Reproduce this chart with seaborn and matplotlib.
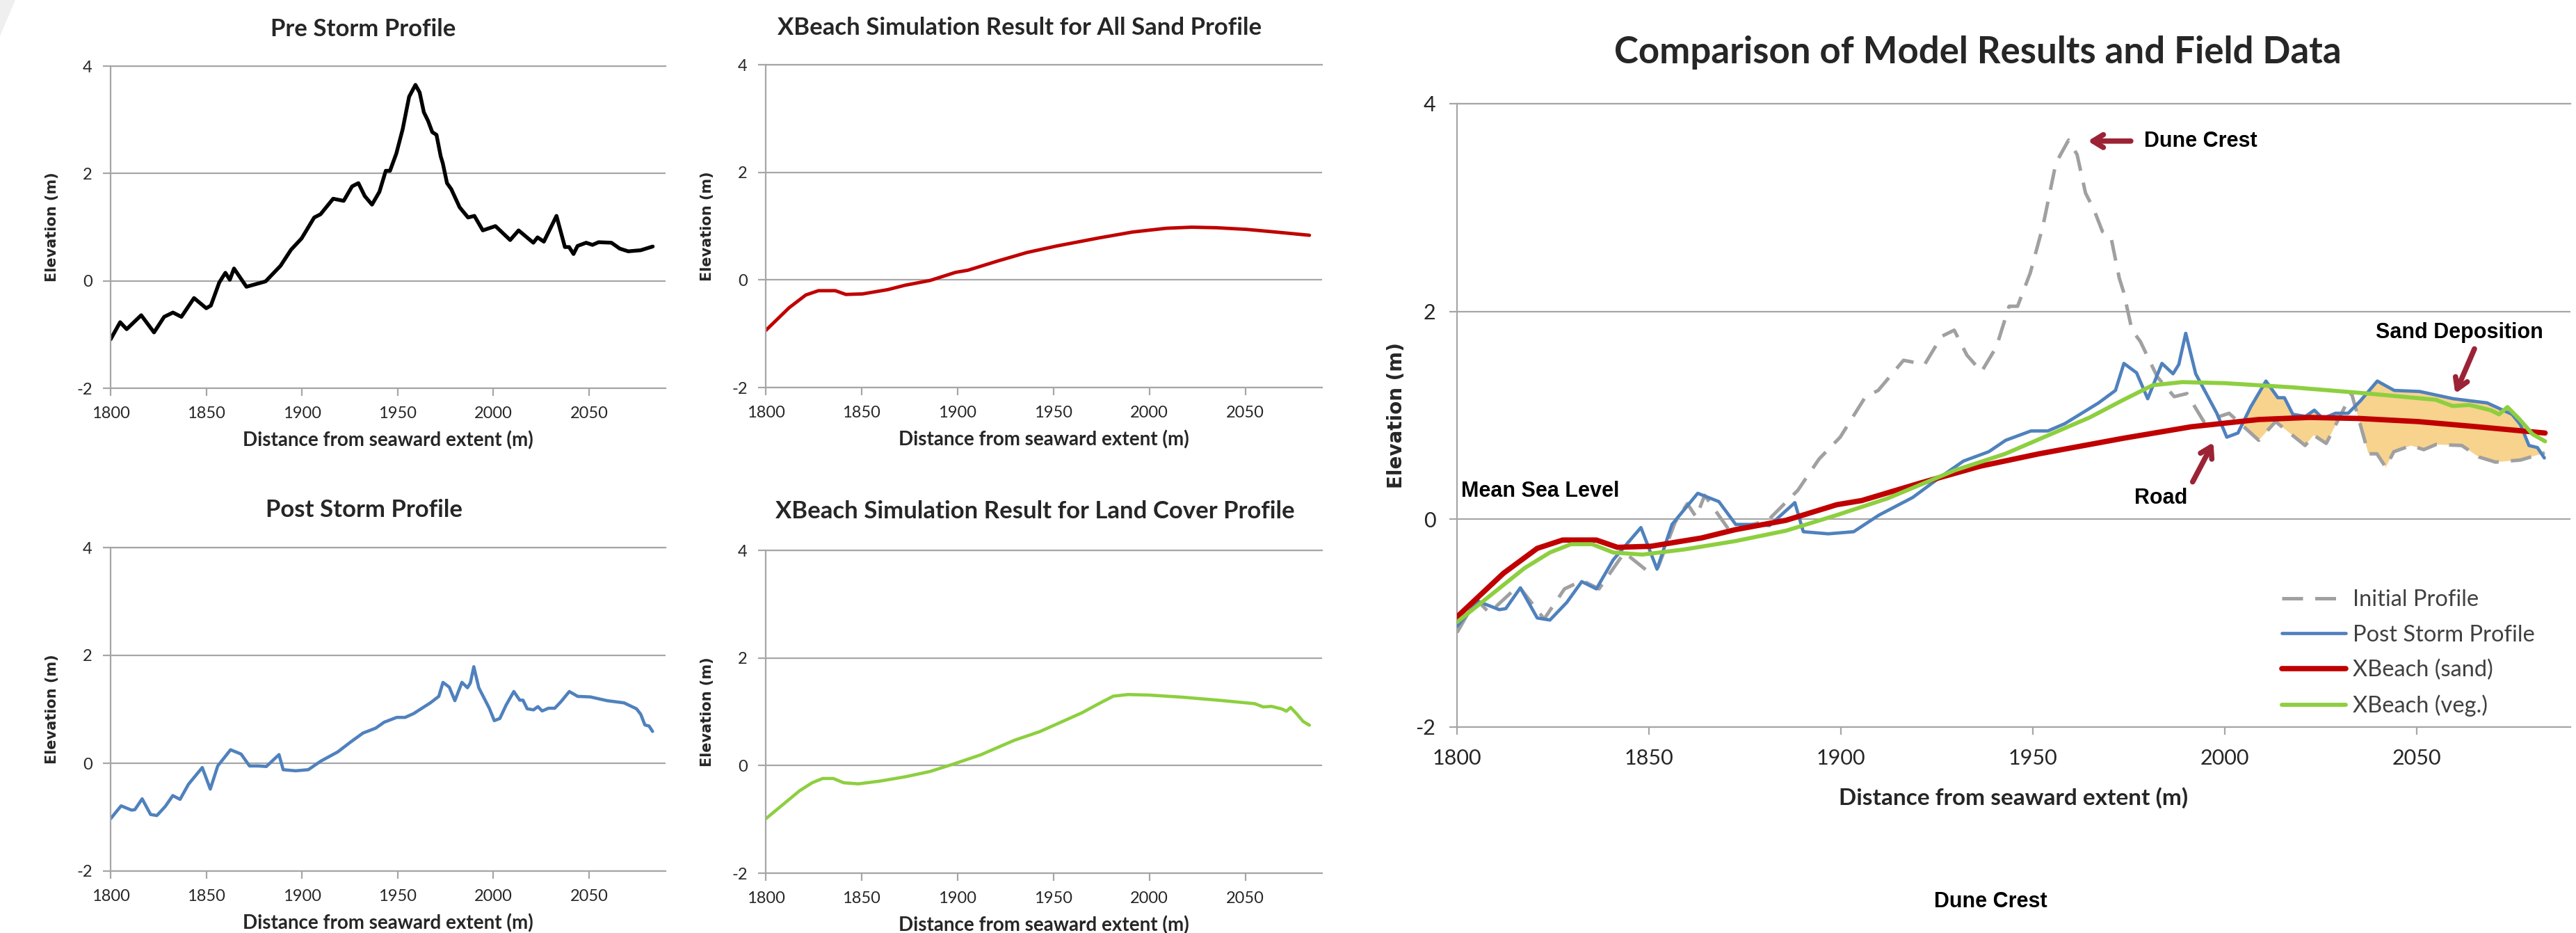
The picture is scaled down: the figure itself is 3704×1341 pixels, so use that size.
import matplotlib
matplotlib.use("Agg")
import matplotlib.pyplot as plt
import numpy as np
import seaborn as sns
from matplotlib.patches import Polygon

# ---- data (distance m, elevation m) ----
pre_x = [1800, 1805, 1808.4, 1816, 1822.7, 1828, 1832.6, 1837, 1843.6, 1850, 1852.4,
         1856.8, 1860, 1862.3, 1864.5, 1871, 1881, 1888.8, 1894.3, 1899.8, 1906.4,
         1909.7, 1916.3, 1921.8, 1926.2, 1929.5, 1932.8, 1936.6, 1940.5, 1943.8, 1946,
         1949.3, 1952.6, 1956, 1959.3, 1961.5, 1963.7, 1965.9, 1968.1, 1970.3, 1972.5,
         1973.6, 1975.8, 1978, 1982.4, 1986.8, 1990.1, 1994.5, 2001.1, 2008.8, 2013.2,
         2020.9, 2023.1, 2026.4, 2033, 2037.4, 2039.6, 2041.9, 2044, 2048.5, 2051.8,
         2055, 2061.7, 2066.1, 2070.5, 2077, 2083.3]
pre_y = [-1.09, -0.77, -0.90, -0.64, -0.96, -0.67, -0.59, -0.67, -0.32, -0.51, -0.46,
         -0.03, 0.15, 0.02, 0.23, -0.11, -0.01, 0.28, 0.58, 0.79, 1.18,
         1.24, 1.53, 1.49, 1.76, 1.82, 1.58, 1.42, 1.66, 2.05, 2.05,
         2.37, 2.82, 3.43, 3.65, 3.51, 3.14, 2.98, 2.77, 2.72, 2.32,
         2.19, 1.82, 1.71, 1.37, 1.18, 1.21, 0.94, 1.02, 0.76, 0.94,
         0.71, 0.81, 0.73, 1.21, 0.63, 0.63, 0.50, 0.65, 0.71, 0.67,
         0.72, 0.71, 0.60, 0.55, 0.57, 0.64]

post_x = [1800, 1805.5, 1811, 1812.7, 1816.5, 1820.9, 1824.2, 1828.6, 1832.5, 1836.3,
          1840.7, 1847.9, 1852.1, 1856, 1862.7, 1868.2, 1872.6, 1877, 1881.4, 1888,
          1890.2, 1896.7, 1903.3, 1909.9, 1918.7, 1925.3, 1931.9, 1938.5, 1942.9, 1949.5,
          1953.9, 1958.3, 1962.7, 1967.1, 1971.5, 1973.7, 1977, 1979.9, 1983.6, 1986.5,
          1988, 1989.8, 1992.4, 1997.9, 2000.5, 2003.4, 2006.7, 2010.7, 2013.8, 2015.5,
          2017.7, 2021, 2023.3, 2025.5, 2028.8, 2032.1, 2035.3, 2039.7, 2044.1, 2050.7,
          2059.5, 2068.3, 2074.8, 2077, 2079.2, 2081.4, 2083.2]
post_y = [-1.03, -0.79, -0.87, -0.86, -0.66, -0.95, -0.97, -0.80, -0.60, -0.67,
          -0.39, -0.08, -0.48, -0.05, 0.25, 0.17, -0.05, -0.05, -0.06, 0.16,
          -0.12, -0.14, -0.12, 0.04, 0.21, 0.39, 0.56, 0.65, 0.76, 0.85,
          0.85, 0.92, 1.02, 1.12, 1.24, 1.50, 1.41, 1.16, 1.50, 1.40,
          1.49, 1.79, 1.40, 1.02, 0.79, 0.83, 1.08, 1.33, 1.17, 1.17,
          1.01, 0.99, 1.05, 0.97, 1.02, 1.02, 1.14, 1.33, 1.24, 1.23,
          1.16, 1.12, 1.01, 0.91, 0.71, 0.69, 0.59]

sand_x = [1800, 1812.1, 1820.9, 1827.5, 1836.3, 1841.8, 1850.5, 1863.7, 1872.5, 1885.7,
          1898.9, 1905.4, 1920.8, 1936.2, 1951.6, 1973.6, 1991.2, 2008.8, 2022, 2035,
          2050.4, 2065.8, 2083.4]
sand_y = [-0.94, -0.52, -0.28, -0.20, -0.20, -0.27, -0.26, -0.18, -0.10, -0.01,
          0.14, 0.18, 0.35, 0.51, 0.63, 0.78, 0.89, 0.96, 0.98, 0.97,
          0.94, 0.89, 0.83]

veg_x = [1800, 1808.8, 1817.6, 1824.2, 1829.7, 1835.2, 1840.7, 1848.3, 1859.3, 1872.5,
         1885.7, 1898.9, 1912.1, 1929.6, 1942.8, 1956, 1964.8, 1973.6, 1981.2, 1988.9,
         1999.9, 2017.5, 2037.3, 2054.9, 2059.3, 2063.7, 2069.2, 2071.4, 2073.6, 2076.8,
         2080.1, 2083.4]
veg_y = [-0.99, -0.73, -0.47, -0.32, -0.24, -0.24, -0.32, -0.34, -0.29, -0.21,
         -0.11, 0.04, 0.20, 0.47, 0.63, 0.84, 0.98, 1.15, 1.29, 1.32,
         1.31, 1.27, 1.21, 1.15, 1.09, 1.10, 1.05, 1.01, 1.08, 0.96,
         0.82, 0.75]

x_ticks = [1800, 1850, 1900, 1950, 2000, 2050]
y_ticks = [-2, 0, 2, 4]
legend_labels = ["Initial Profile", "Post Storm Profile", "XBeach (sand)", "XBeach (veg.)"]

W, H = 3705, 1341
GRID = "#A6A6A6"
RED = "#C00000"
BLUE = "#4F81BD"
GREEN = "#8DCF3F"
GREY = "#A0A0A0"
FILL = "#F7D38E"
ARROW = "#9B2335"
BOLD_WIDE = ["DejaVu Sans"]
ARIAL = ["Liberation Sans", "DejaVu Sans"]

sns.set_theme(style="white")
plt.rcParams["font.family"] = ["Lato", "DejaVu Sans"]
plt.rcParams["axes.unicode_minus"] = False

fig = plt.figure(figsize=(W / 100, H / 100), dpi=100)


def axes_px(left, top, right, bottom):
    return fig.add_axes([left / W, 1 - bottom / H, (right - left) / W, (bottom - top) / H])


def style_axes(ax, tick_size, tick_pad):
    ax.set_xlim(1800, 2090)
    ax.set_ylim(-2, 4)
    ax.set_xticks(x_ticks)
    ax.set_yticks(y_ticks)
    ax.grid(axis="y", color=GRID, lw=1.6)
    ax.grid(axis="x", visible=False)
    for side in ["left", "bottom", "top"]:
        ax.spines[side].set_color(GRID)
        ax.spines[side].set_linewidth(1.6)
    ax.spines["right"].set_visible(False)
    ax.tick_params(axis="both", bottom=True, left=True, direction="out", length=8,
                   width=1.6, color=GRID, labelsize=tick_size, pad=tick_pad,
                   labelcolor="#262626")
    ax.set_axisbelow(True)


small_panels = [
    ((159, 95, 957, 558), "Pre Storm Profile", pre_x, pre_y, "black", 3.9, 522, 42),
    ((1101, 93, 1901, 557), "XBeach Simulation Result for All Sand Profile",
     sand_x, sand_y, RED, 3.5, 1466, 40),
    ((159, 787, 957, 1252), "Post Storm Profile", post_x, post_y, BLUE, 3.3, 524, 733),
    ((1101, 791, 1901, 1255), "XBeach Simulation Result for Land Cover Profile",
     veg_x, veg_y, GREEN, 3.3, 1488, 735),
]

for box, title, xs, ys, color, lw, tx, ty in small_panels:
    ax = axes_px(*box)
    sns.lineplot(x=xs, y=ys, color=color, lw=lw, ax=ax, sort=False)
    style_axes(ax, 17, 11)
    ax.set_xlabel("Distance from seaward extent (m)", fontsize=20, fontweight="bold",
                  labelpad=10)
    ax.set_ylabel("Elevation (m)", fontsize=15, fontweight="bold", family=BOLD_WIDE,
                  labelpad=18)
    fig.text(tx / W, 1 - ty / H, title, fontsize=25, fontweight="bold",
             ha="center", va="center")

# ---- big comparison panel ----
ax = axes_px(2095, 149, 3696, 1045)

# shade where the post-storm surface sits above the initial one (sand deposition)
grid_x = np.linspace(2000, 2084, 400)
post_i = np.interp(grid_x, post_x, post_y)
pre_i = np.interp(grid_x, pre_x, pre_y)
ax.fill_between(grid_x, pre_i, post_i, where=post_i > pre_i, color=FILL, lw=0,
                interpolate=True, zorder=1)

sns.lineplot(x=pre_x, y=pre_y, color=GREY, lw=3.6, ax=ax, sort=False,
             label=legend_labels[0], zorder=2)
ax.lines[-1].set_dashes([6, 3.5])
sns.lineplot(x=post_x, y=post_y, color=BLUE, lw=3.4, ax=ax, sort=False,
             label=legend_labels[1], zorder=3)
sns.lineplot(x=sand_x, y=sand_y, color=RED, lw=5.5, ax=ax, sort=False,
             label=legend_labels[2], zorder=4)
sns.lineplot(x=veg_x, y=veg_y, color=GREEN, lw=4.2, ax=ax, sort=False,
             label=legend_labels[3], zorder=5)

style_axes(ax, 22, 14)
ax.set_xlabel("Distance from seaward extent (m)", fontsize=24, fontweight="bold",
              labelpad=20)
ax.set_ylabel("Elevation (m)", fontsize=20, fontweight="bold", family=BOLD_WIDE,
              labelpad=10)
ax.set_title("Comparison of Model Results and Field Data", fontsize=38,
             fontweight="bold", pad=42, x=0.468)

leg = ax.legend(loc="upper left", bbox_to_anchor=(3252 / W, 1 - 818 / H),
                bbox_transform=fig.transFigure, frameon=False, fontsize=23.5,
                handlelength=2.8, handletextpad=0.3, labelspacing=0.62)
for text in leg.get_texts():
    text.set_color("#404040")

ann_kw = dict(fontsize=22, fontweight="bold", family=ARIAL, color="black")
arrow_kw = dict(arrowstyle="->,head_length=0.9,head_width=0.55", color=ARROW, lw=5.5,
                shrinkA=0, shrinkB=0)
ax.annotate("", xy=(1964.3, 3.64), xytext=(1975.5, 3.64), arrowprops=arrow_kw)
ax.text(1979, 3.64, "Dune Crest", va="center", ha="left", **ann_kw)
ax.annotate("", xy=(2060, 1.21), xytext=(2065, 1.64), arrowprops=arrow_kw)
ax.text(2039.3, 1.80, "Sand Deposition", va="center", ha="left", **ann_kw)
ax.annotate("", xy=(1997, 0.74), xytext=(1991.6, 0.36), arrowprops=arrow_kw)
ax.text(1976.4, 0.20, "Road", va="center", ha="left", **ann_kw)
ax.text(1801, 0.27, "Mean Sea Level", va="center", ha="left", **ann_kw)

fig.text(2862 / W, 1 - 1296 / H, "Dune Crest", ha="center", va="center", **ann_kw)

# faint slide corner in the top-left
fig.patches.append(Polygon([[0, 1], [22 / W, 1], [0, 1 - 52 / H]], closed=True,
                           transform=fig.transFigure, color="#EFEFEF", lw=0))

fig.savefig("out.png", dpi=100)
